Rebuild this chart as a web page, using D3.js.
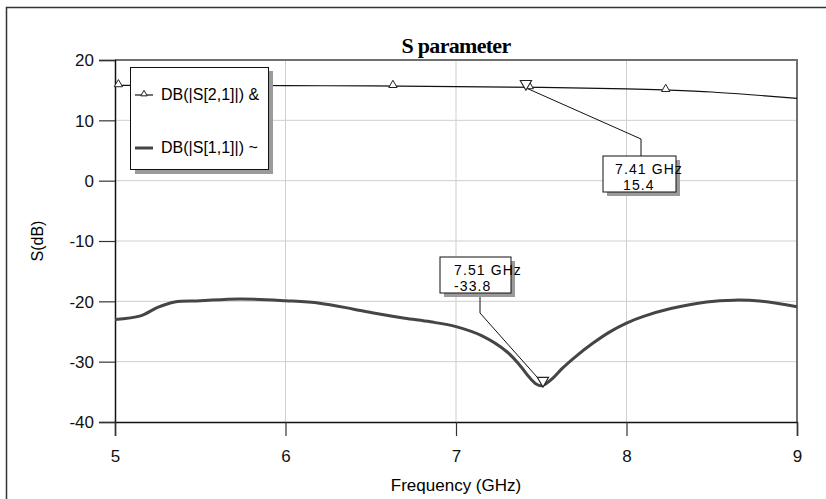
<!DOCTYPE html>
<html><head><meta charset="utf-8">
<script src="https://cdn.jsdelivr.net/npm/d3@7"></script>
<style>body{margin:0;background:#fff}svg{display:block}</style>
</head><body>
<svg id="c" width="826" height="499"></svg>
<script>
const title = "S parameter";
const xLabel = "Frequency (GHz)";
const yLabel = "S(dB)";
const xTicks = [5, 6, 7, 8, 9];
const yTicks = [20, 10, 0, -10, -20, -30, -40];
const seriesNames = ["DB(|S[2,1]|) &", "DB(|S[1,1]|) ~"];
// S21 curve
const s21Freq = [5.0, 5.5, 6.0, 6.5, 7.0, 7.5, 8.0, 8.25, 8.5, 8.75, 9.0];
const s21dB   = [15.8, 15.8, 15.75, 15.7, 15.6, 15.45, 15.2, 15.0, 14.7, 14.2, 13.65];
const s21MarkFreq = [5.02, 5.82, 6.63, 7.43, 8.23];
// S11 curve
const s11Freq = [5.0, 5.15, 5.25, 5.35, 5.5, 5.73, 6.0, 6.2, 6.4, 6.55, 6.7, 6.85, 7.0, 7.15, 7.3, 7.38, 7.43, 7.47, 7.5, 7.53, 7.57, 7.62, 7.7, 7.8, 7.9, 8.0, 8.1, 8.26, 8.47, 8.63, 8.78, 9.0];
const s11dB   = [-23.0, -22.4, -21.0, -20.1, -19.9, -19.6, -19.9, -20.3, -21.3, -22.1, -22.8, -23.4, -24.2, -25.7, -28.4, -30.8, -32.6, -33.7, -34.0, -33.6, -32.7, -31.2, -29.2, -27.0, -25.1, -23.6, -22.5, -21.2, -20.1, -19.8, -19.95, -20.9];
// markers
const markerFreq = [7.41, 7.51];
const markerdB = [15.4, -33.8];
const markerFreqText = ["7.41 GHz", "7.51 GHz"];
const markerValText = ["15.4", "-33.8"];

const svg = d3.select("#c");
const L = 115, R = 797, T = 60, B = 422;
const x = d3.scaleLinear().domain([5, 9]).range([L, R]);
const y = d3.scaleLinear().domain([-40, 20]).range([B, T]);
const font = "Liberation Sans, Arial, sans-serif";

// outer frame
svg.append("rect").attr("x", 6.5).attr("y", 7.5).attr("width", 830).attr("height", 500)
  .attr("fill", "none").attr("stroke", "#333").attr("stroke-width", 1.5);

// grid
svg.append("g").selectAll("line").data(xTicks.slice(1, -1)).join("line")
  .attr("x1", d => x(d)).attr("x2", d => x(d)).attr("y1", T).attr("y2", B)
  .attr("stroke", "#cfcfcf").attr("stroke-width", 1);
svg.append("g").selectAll("line").data(yTicks.slice(1, -1)).join("line")
  .attr("y1", d => y(d)).attr("y2", d => y(d)).attr("x1", L).attr("x2", R)
  .attr("stroke", "#cfcfcf").attr("stroke-width", 1);

// plot frame top/right
svg.append("path").attr("d", `M${L},${T}H${R}V${B}`).attr("fill", "none")
  .attr("stroke", "#707070").attr("stroke-width", 2);

// axes
const yAxis = d3.axisLeft(y).tickValues(yTicks).tickSize(16).tickPadding(5).tickFormat(d => String(d));
const gy = svg.append("g").attr("transform", `translate(${L},0)`).call(yAxis);
const xAxis = d3.axisBottom(x).tickValues(xTicks).tickSize(14).tickPadding(14).tickFormat(d => String(d));
const gx = svg.append("g").attr("transform", `translate(0,${B})`).call(xAxis);
[gy, gx].forEach(g => {
  g.select(".domain").attr("stroke", "#111").attr("stroke-width", 1.5);
  g.selectAll(".tick line").attr("stroke", "#333").attr("stroke-width", 1.2);
  g.selectAll("text").attr("font-family", font).attr("font-size", 17).attr("fill", "#111");
});
gx.selectAll(".tick text").attr("dy", "0.71em");
gy.selectAll(".tick text").attr("dy", "0.35em");

// labels
svg.append("text").attr("x", 456).attr("y", 53).attr("text-anchor", "middle")
  .attr("font-family", "Liberation Serif, Times New Roman, serif").attr("font-weight", "bold")
  .attr("font-size", 22).attr("letter-spacing", -0.7).text(title);
svg.append("text").attr("x", 456).attr("y", 491).attr("text-anchor", "middle")
  .attr("font-family", font).attr("font-size", 17).text(xLabel);
svg.append("text").attr("transform", `translate(43,${(T + B) / 2}) rotate(-90)`).attr("text-anchor", "middle")
  .attr("font-family", font).attr("font-size", 16).text(yLabel);

// curves
const s21 = s21Freq.map((f, i) => [f, s21dB[i]]);
const s11 = s11Freq.map((f, i) => [f, s11dB[i]]);
const line = d3.line().x(d => x(d[0])).y(d => y(d[1])).curve(d3.curveCatmullRom.alpha(0.5));
svg.append("path").datum(s11).attr("d", line).attr("fill", "none")
  .attr("stroke", "#454545").attr("stroke-width", 3);
svg.append("path").datum(s21).attr("d", line).attr("fill", "none")
  .attr("stroke", "#111").attr("stroke-width", 1.2);
const s21Interp = f => d3.scaleLinear().domain(s21Freq).range(s21dB)(f);
const tri = d3.symbol().type(d3.symbolTriangle).size(30);
svg.append("g").selectAll("path").data(s21MarkFreq).join("path")
  .attr("d", tri).attr("transform", d => `translate(${x(d)},${y(s21Interp(d)) - 1})`)
  .attr("fill", "#fff").attr("stroke", "#222").attr("stroke-width", 1);

// marker leaders and boxes
const boxes = [
  {bx: 603, by: 156, bw: 73, bh: 36, t1: 12, t2: 20, lead: f => [[x(f) + 2, y(15.4) + 1], [641, 139], [641, 156]]},
  {bx: 440, by: 257, bw: 71, bh: 36, t1: 14, t2: 14, lead: f => [[x(f) - 1, y(-33.8) - 2], [480, 313], [480, 293]]}
];
markerFreq.forEach((f, i) => {
  const b = boxes[i];
  svg.append("path").attr("d", d3.line()(b.lead(f))).attr("fill", "none").attr("stroke", "#111").attr("stroke-width", 1);
  svg.append("path").attr("d", d3.symbol().type(d3.symbolTriangle).size(55)())
    .attr("transform", `translate(${x(f)},${y(markerdB[i]) - 4}) rotate(180)`)
    .attr("fill", "#fff").attr("stroke", "#222").attr("stroke-width", 1.1);
  svg.append("rect").attr("x", b.bx + 4).attr("y", b.by + 4).attr("width", b.bw).attr("height", b.bh).attr("fill", "#9a9a9a");
  svg.append("rect").attr("x", b.bx).attr("y", b.by).attr("width", b.bw).attr("height", b.bh)
    .attr("fill", "#fff").attr("stroke", "#111").attr("stroke-width", 1);
  svg.append("text").attr("x", b.bx + b.t1).attr("y", b.by + 18).attr("font-family", font).attr("font-size", 14)
    .attr("letter-spacing", 1.1).text(markerFreqText[i]);
  svg.append("text").attr("x", b.bx + b.t2).attr("y", b.by + 34).attr("font-family", font).attr("font-size", 14)
    .attr("letter-spacing", 1.1).text(markerValText[i]);
});

// legend
const lg = svg.append("g");
lg.append("rect").attr("x", 135).attr("y", 71).attr("width", 138).attr("height", 103).attr("fill", "#9a9a9a");
lg.append("rect").attr("x", 130.5).attr("y", 67.5).attr("width", 138).attr("height", 102)
  .attr("fill", "#fff").attr("stroke", "#111").attr("stroke-width", 1);
const legY = [95, 148];
lg.append("line").attr("x1", 135).attr("x2", 153).attr("y1", legY[0]).attr("y2", legY[0]).attr("stroke", "#111").attr("stroke-width", 1.2);
lg.append("path").attr("d", d3.symbol().type(d3.symbolTriangle).size(18)()).attr("transform", `translate(144,${legY[0] - 1})`)
  .attr("fill", "#fff").attr("stroke", "#222").attr("stroke-width", 1);
lg.append("line").attr("x1", 135).attr("x2", 153).attr("y1", legY[1]).attr("y2", legY[1]).attr("stroke", "#454545").attr("stroke-width", 3);
seriesNames.forEach((n, i) => {
  lg.append("text").attr("x", 161).attr("y", legY[i] + 5).attr("font-family", font).attr("font-size", 16).text(n);
});
</script>
</body></html>
